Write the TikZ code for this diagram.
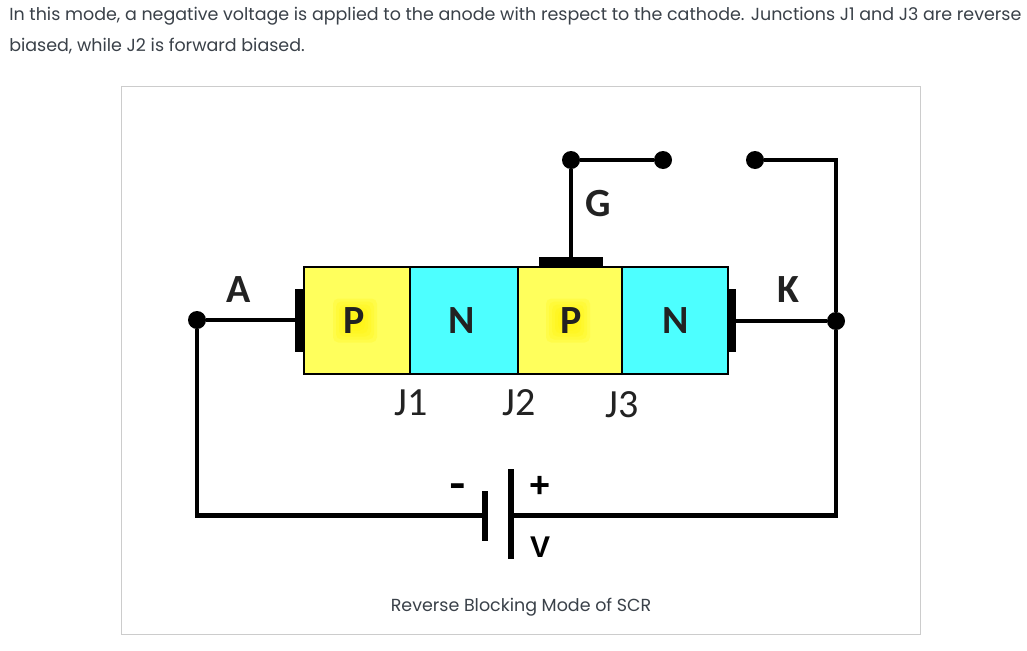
\documentclass[tikz,border=0pt]{standalone}
\usepackage{fontspec}
\setmainfont{Poppins}
\newfontfamily\labelfont{Carlito}
\newfontfamily\batteryfont{Liberation Sans}
\usetikzlibrary{positioning}
\definecolor{pfill}{HTML}{FFFF5C}
\definecolor{nfill}{HTML}{4DFFFF}
\definecolor{inktext}{HTML}{3A4149}
\definecolor{inklabel}{HTML}{222222}
\definecolor{framegray}{HTML}{CCCCCC}
\tikzset{
  layer/.style={draw=black,line width=2.2pt,minimum height=80.25pt,inner sep=0pt,outer sep=0pt,text=inklabel,font=\labelfont\bfseries\fontsize{30}{33}\selectfont},
  ptype/.style={layer,fill=pfill,path picture={
    \foreach \r in {22,19,16,13,10,7}
      \fill[yellow,opacity=0.2,rounded corners=4] ([shift={(-\r-2,-\r)}]path picture bounding box.center) rectangle ([shift={(\r-2,\r)}]path picture bounding box.center);}},
  ntype/.style={layer,fill=nfill},
  pad/.style={fill=black,inner sep=0pt,outer sep=0pt},
  dot/.style={circle,fill=black,inner sep=0pt,minimum size=13.5pt,outer sep=0pt},
  tag/.style={text=inklabel,inner sep=0pt,font=\labelfont\bfseries\fontsize{30}{33}\selectfont},
  junction/.style={text=inklabel,inner sep=0pt,font=\labelfont\fontsize{30}{33}\selectfont},
  sign/.style={text=black,inner sep=0pt,font=\batteryfont\bfseries},
  para/.style={text=inktext,inner sep=0pt,anchor=base west,font=\fontsize{13.11}{15}\selectfont},
  thinwire/.style={draw=black,line width=2.5pt},
  thickwire/.style={draw=black,line width=3.6pt}
}
\begin{document}
\begin{tikzpicture}[x=0.75pt,y=-0.75pt]
  \useasboundingbox (0,0) rectangle (1027,650);
  \fill[white] (0,0) rectangle (1027,650);
  \draw[framegray,line width=0.75pt] (121.5,86.5) rectangle (920.5,634);
  % text around the figure
  \node (line1) [para] at (9,20) {In this mode, a negative voltage is applied to the anode with respect to the cathode. Junctions J1 and J3 are reverse};
  \node (line2) [para] at (9,51) {biased, while J2 is forward biased.};
  \node (caption) [text=inktext,inner sep=0pt,font=\fontsize{13.1}{15}\selectfont] at (521,607) {Reverse Blocking Mode of SCR};
  % the four layers
  \node (P1) [ptype,minimum width=79.5pt] at (357,320.5) {\kern-4.5pt P};
  \node (N1) [ntype,minimum width=81pt,right=0pt of P1] {\kern-3pt N};
  \node (P2) [ptype,minimum width=78pt,right=0pt of N1] {\kern1.5pt P};
  \node (N2) [ntype,minimum width=79.5pt,right=0pt of P2] {\kern1.5pt N};
  % contacts
  \node (padA) [pad,minimum width=6.75pt,minimum height=47.25pt,left=0pt of P1] {};
  \node (padK) [pad,minimum width=6pt,minimum height=47.25pt,right=0pt of N2] {};
  \node (padG) [pad,minimum width=48pt,minimum height=7.5pt,above=0pt of P2,xshift=0.75pt] {};
  % terminals
  \begin{scope}[every node/.style={dot}]
    \node (dotA) at (197,320) {};
    \node (dotK) at (836,321) {};
    \node (dotG) at (571,160) {};
    \node (dotS) at (663,160) {};
    \node (dotT) at (755,160) {};
  \end{scope}
  % battery
  \node (plateL) [pad,minimum width=4.5pt,minimum height=37.5pt] at (485,515.5) {};
  \node (plateR) [pad,minimum width=4.5pt,minimum height=67.5pt] at (511,514) {};
  % wires
  \begin{scope}[every edge/.style={thinwire}]
    \path (dotA) edge (dotA -| padA.west);
    \path (dotK -| padK.east) edge (dotK);
    \path (dotG |- padG.north) edge (dotG);
  \end{scope}
  \path[thickwire] (dotG) -- (dotS);
  \path[thickwire,line join=miter] (dotA.south) |- (plateL.west);
  \path[thickwire,line join=miter] (plateR.east |- plateL.west) -| (dotK.south);
  \path[thickwire,line join=miter] (dotK.north) |- (dotT.east);
  % labels
  \node (labA) [tag] at (239,290) {A};
  \node (labK) [tag] at (788,290) {K};
  \node (labG) [tag] at (598,204) {G};
  \node (J1) [junction] at (411,403) {J1};
  \node (J2) [junction] at (519,403) {J2};
  \node (J3) [junction] at (622,405) {J3};
  \node (minus) [sign,font=\batteryfont\bfseries\fontsize{30}{33}\selectfont] at (458,490) {\scalebox{1.25}[1]{-}};
  \node (plus) [sign,font=\batteryfont\bfseries\fontsize{27}{30}\selectfont] at (540,487) {+};
  \node (labV) [sign,font=\batteryfont\bfseries\fontsize{22.5}{25}\selectfont] at (540,547) {V};
\end{tikzpicture}
\end{document}
